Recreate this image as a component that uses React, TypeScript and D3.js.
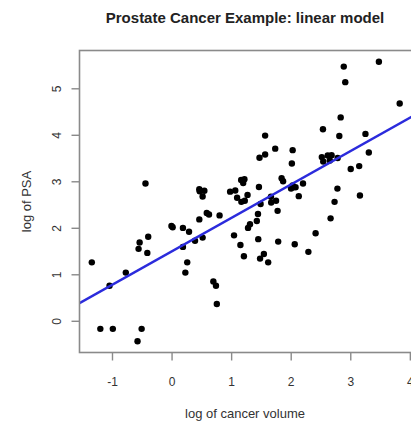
import React from "react";
import * as d3 from "d3";

const lcavol = [
  -0.5798185, -0.9942523, -0.5108256, -1.2039728, 0.7514161, -1.0498221, 0.7371641, 0.6931472,
  -0.7765288, 0.2231436, 0.2546422, -1.3470736, 1.61343, 1.4770487, 1.2059708, 1.5411591,
  -0.4155154, 2.2884862, -0.5621189, 0.1823216, 1.1474025, 2.0592388, -0.5447272, 1.7817091,
  0.3852624, 1.446919, 0.5128236, -0.4004776, 1.0402767, 2.4096442, 0.2851789, 0.1823216,
  1.2753628, 0.0099503, -0.0100503, 1.3083328, 1.4231083, 0.4574248, 2.6609586, 0.7975072,
  0.6205765, 1.442202, 0.5822156, 1.7715568, 1.4861397, 1.6639261, 2.7278528, 1.1631508,
  1.7457155, 1.2208299, 1.0919233, 1.660131, 0.5128236, 2.1270405, 3.1535904, 1.2669476,
  0.9745596, 0.463734, 0.5423243, 1.0612565, 0.4574248, 1.9974177, 2.7757094, 2.0346553,
  2.0731719, 1.458615, 2.0228712, 2.1983351, -0.4462871, 1.1939225, 1.8640801, 1.1600209,
  1.2149127, 1.8389611, 2.9992262, 3.1411305, 2.010895, 2.5376572, 2.6483002, 2.7794402,
  1.4678743, 2.5136561, 2.6130067, 2.677591, 1.5623463, 3.3028493, 2.0241931, 1.7316555,
  2.8075938, 1.5623463, 3.246491, 2.5329028, 2.8302678, 3.8210036, 2.9074474, 2.8825636,
  3.4719665,
];

const lpsa = [
  -0.4307829, -0.1625189, -0.1625189, -0.1625189, 0.3715636, 0.7654678, 0.7654678, 0.8544153,
  1.047319, 1.047319, 1.2669476, 1.2669476, 1.2669476, 1.3480731, 1.3987169, 1.446919,
  1.4701758, 1.4929041, 1.5581446, 1.5993876, 1.6389967, 1.6582281, 1.6956156, 1.7137979,
  1.7316555, 1.7664417, 1.8000583, 1.8164521, 1.8484548, 1.8946169, 1.9242487, 2.008214,
  2.008214, 2.0215476, 2.0476928, 2.0856721, 2.1575593, 2.1916535, 2.2137539, 2.2772673,
  2.2975726, 2.3075726, 2.3272777, 2.3749058, 2.5217206, 2.5533438, 2.5687881, 2.5687881,
  2.5915164, 2.5915164, 2.6567569, 2.677591, 2.6844403, 2.6912431, 2.7047113, 2.7180005,
  2.7880929, 2.7942279, 2.8063861, 2.8124102, 2.8419982, 2.8535925, 2.8535925, 2.8820035,
  2.8820035, 2.8875901, 2.9204698, 2.9626924, 2.9626924, 2.9729753, 3.0130809, 3.0373539,
  3.0563569, 3.0750055, 3.2752562, 3.3375474, 3.3928291, 3.4355988, 3.4578927, 3.5130369,
  3.5160131, 3.5307626, 3.5652984, 3.5709402, 3.5876769, 3.6309855, 3.6800909, 3.7123518,
  3.9843437, 3.993603, 4.029806, 4.1295508, 4.3851468, 4.6844434, 5.1431245, 5.477509,
  5.5829322,
];

const xTicks = [-1, 0, 1, 2, 3, 4];
const yTicks = [0, 1, 2, 3, 4, 5];
const title = "Prostate Cancer Example: linear model";
const xLabel = "log of cancer volume";
const yLabel = "log of PSA";

// least-squares fit of lpsa on lcavol
function fit(xs: number[], ys: number[]) {
  const mx = d3.mean(xs)!;
  const my = d3.mean(ys)!;
  let sxy = 0, sxx = 0;
  xs.forEach((x, i) => {
    sxy += (x - mx) * (ys[i] - my);
    sxx += (x - mx) * (x - mx);
  });
  const b = sxy / sxx;
  return { a: my - b * mx, b };
}

export default function App() {
  const W = 411, H = 424;
  const left = 79.5, right = 412, top = 50.5, bottom = 352.5;
  const [xmin, xmax] = d3.extent(lcavol) as [number, number];
  const [ymin, ymax] = d3.extent(lpsa) as [number, number];
  const xe = (xmax - xmin) * 0.04, ye = (ymax - ymin) * 0.04;
  const x = d3.scaleLinear().domain([xmin - xe, xmax + xe]).range([left, right]);
  const y = d3.scaleLinear().domain([ymin - ye, ymax + ye]).range([bottom, top]);
  const { a, b } = fit(lcavol, lpsa);
  const [dx0, dx1] = x.domain();
  const line = d3.line<number>().x((d) => x(d)).y((d) => y(a + b * d));
  const font = "'Liberation Sans', Arial, sans-serif";
  const axisColor = "#8a8a8a";
  const textColor = "#333";

  return (
    <svg width={W} height={H} style={{ position: "absolute", left: 0, top: 0, background: "#fff" }} fontFamily={font}>
      <rect x={0} y={0} width={W} height={H} fill="#fff" />
      <defs>
        <clipPath id="plotclip">
          <rect x={left} y={top} width={right - left} height={bottom - top} />
        </clipPath>
      </defs>
      <text x={245} y={22.5} textAnchor="middle" fontWeight="bold" fontSize={15} fill="#222">
        {title}
      </text>
      <g clipPath="url(#plotclip)">
        {lcavol.map((v, i) => (
          <circle key={i} cx={x(v)} cy={y(lpsa[i])} r={3.2} fill="#000" />
        ))}
        <path d={line([dx0, dx1]) || ""} stroke="#2b2bdc" strokeWidth={2.4} fill="none" />
      </g>
      <rect x={left} y={top} width={right - left} height={bottom - top} fill="none" stroke={axisColor} strokeWidth={1.6} />
      {xTicks.map((t) => (
        <g key={"x" + t}>
          <line x1={x(t)} x2={x(t)} y1={bottom} y2={bottom + 8} stroke={axisColor} strokeWidth={1.4} />
          <text x={x(t)} y={385.5} textAnchor="middle" fontSize={12} fill={textColor}>
            {t}
          </text>
        </g>
      ))}
      {yTicks.map((t) => (
        <g key={"y" + t}>
          <line x1={left - 8} x2={left} y1={y(t)} y2={y(t)} stroke={axisColor} strokeWidth={1.4} />
          <text
            transform={`translate(61,${y(t)}) rotate(-90)`}
            textAnchor="middle"
            fontSize={12}
            fill={textColor}
          >
            {t}
          </text>
        </g>
      ))}
      <text x={245} y={418} textAnchor="middle" fontSize={13} fill={textColor}>
        {xLabel}
      </text>
      <text
        transform={`translate(31,${(top + bottom) / 2}) rotate(-90)`}
        textAnchor="middle"
        fontSize={13}
        fill={textColor}
      >
        {yLabel}
      </text>
    </svg>
  );
}
